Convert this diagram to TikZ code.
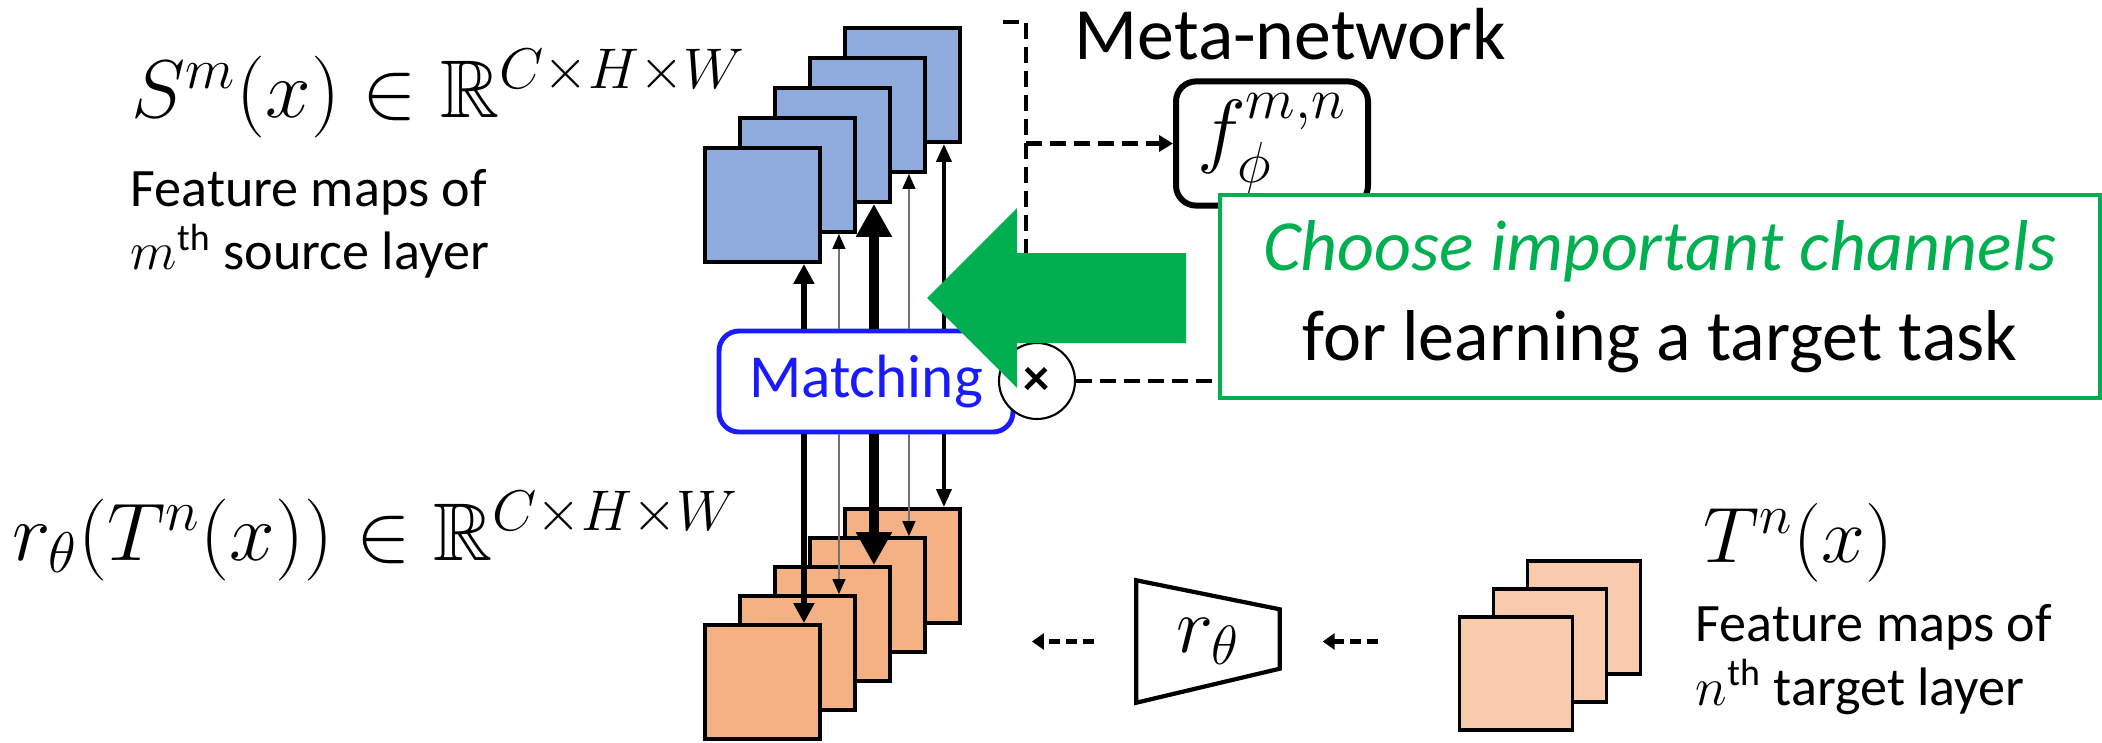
\RequirePackage{fix-cm}
\documentclass[tikz,border=0pt]{standalone}
\usepackage{amssymb}
\usepackage{fontspec}
\setmainfont{Carlito}
\usetikzlibrary{arrows.meta,positioning,calc}

\definecolor{srcblue}{HTML}{8FAADC}
\definecolor{recorange}{HTML}{F4B183}
\definecolor{tgtorange}{HTML}{F8CBAD}
\definecolor{notegreen}{HTML}{00B050}
\definecolor{matchblue}{HTML}{1A1AFF}

\tikzset{
  fmap/.style={draw, line width=1.1pt, minimum width=1.15cm, minimum height=1.14cm, inner sep=0pt},
  mathlbl/.style={font=\fontsize{23.3}{28}\selectfont, inner sep=0pt},
  desc/.style={font=\fontsize{15.4}{18}\selectfont, inner sep=0pt, align=left},
  chbold/.style={line width=1.6pt, -{Triangle[length=0.2cm,width=0.2cm]}},
  chthin/.style={line width=0.4pt, black!55, -{Triangle[length=0.15cm,width=0.13cm,color=black]}},
  chmax/.style={line width=2.8pt, -{Triangle[length=0.33cm,width=0.34cm]}},
  chmid/.style={line width=1.1pt, -{Triangle[length=0.18cm,width=0.15cm]}},
  metaline/.style={line width=1.3pt, dash pattern=on 0.16cm off 0.08cm},
  recline/.style={line width=1.4pt, dash pattern=on 0.11cm off 0.06cm, -{Triangle[length=0.12cm,width=0.16cm]}}
}

\begin{document}
\begin{tikzpicture}
  \useasboundingbox (0,0) rectangle (21.02,-7.42);

  % feature map stacks
  \foreach \k in {4,3,2,1,0}
    \node[fmap, fill=srcblue] (s\k) at ({7.625+0.35*\k},{-2.05+0.30*\k}) {};
  \foreach \k in {4,3,2,1,0}
    \node[fmap, fill=recorange] (o\k) at ({7.625+0.35*\k},{-6.82+0.29*\k}) {};
  \foreach \k in {2,1,0}
    \node[fmap, fill=tgtorange, minimum width=1.13cm, minimum height=1.13cm] (t\k) at ({15.16+0.34*\k},{-6.735+0.28*\k}) {};

  \node[draw=matchblue, line width=1.4pt, rounded corners=0.2cm, fill=white, text=matchblue,
        minimum width=2.94cm, minimum height=1.01cm, font=\fontsize{17.4}{20}\selectfont] (match) at (8.66,-3.815) {Matching};

  % channel weights
  \foreach \k/\w in {0/chbold,1/chthin,2/chmax,3/chthin,4/chmid} {
    \draw[\w] ([xshift=-0.18cm]s\k.south east |- match.north) -- ([xshift=-0.18cm]s\k.south east);
    \draw[\w] ([xshift=-0.18cm]o\k.north east |- match.south) -- ([xshift=-0.18cm]o\k.north east);
  }

  % meta-network
  \node[anchor=base west, inner sep=0pt, font=\fontsize{21}{25}\selectfont] (metatitle) at (10.74,-0.60) {Meta-network};
  \node[draw, line width=1.7pt, rounded corners=0.2cm, minimum width=1.92cm, minimum height=1.07cm,
        font=\fontsize{23.5}{28}\selectfont] (fmeta) at (12.72,-1.435) {$f_\phi^{m,n}$};
  \coordinate (tap) at (10.03,-0.22);
  \coordinate (bend) at (10.26,-0.22);
  \draw[metaline] (tap) -- (bend) -- (bend |- match.north);
  \draw[metaline, -{Triangle[length=0.14cm,width=0.16cm]}] (bend |- fmeta.west) -- (fmeta.west);

  \node[circle, draw, line width=0.6pt, fill=white, minimum size=0.76cm, inner sep=0pt,
        font=\bfseries\fontsize{15}{15}\selectfont] (mult) at (10.37,-3.81) {×};

  % big arrow
  \fill[notegreen] (9.27,-2.98) -- (10.17,-2.08) -- (10.17,-2.53) -- (11.86,-2.53)
    -- (11.86,-3.43) -- (10.17,-3.43) -- (10.17,-3.88) -- cycle;

  \node[draw=notegreen, line width=1.2pt, fill=white, minimum width=8.8cm, minimum height=2.03cm,
        align=center, font=\fontsize{20.5}{25.6}\selectfont] (note) at (16.6,-2.965)
        {\textcolor{notegreen}{\itshape Choose important channels}\\for learning a target task};
  \draw[metaline] (mult.east) -- (mult.east -| note.west);

  % reducer
  \node[minimum width=1.42cm, minimum height=1.21cm, inner sep=0pt,
        font=\fontsize{22.5}{27}\selectfont] (rnet) at (12.08,-6.415) {$r_\theta$};
  \draw[line width=1.2pt] (rnet.north west) -- ([yshift=-0.29cm]rnet.north east)
    -- ([yshift=0.34cm]rnet.south east) -- (rnet.south west) -- cycle;
  \draw[recline, shorten <=0.8cm, shorten >=0.43cm] (rnet.east -| t0.west) -- (rnet.east);
  \draw[recline, shorten <=0.42cm, shorten >=0.7cm] (rnet.west) -- (rnet.west -| o4.east);

  % labels
  \node[mathlbl, anchor=base west] (slabel) at (1.31,-1.18) {$S^m(x)\in\mathbb{R}^{C\times H\times W}$};
  \node[desc, anchor=base west] (sdesc) at (1.30,-2.70) {Feature maps of\\$m$\textsuperscript{th} source layer};
  \node[mathlbl, anchor=base west] (rlabel) at (0.12,-5.60) {$r_\theta(T^n(x))\in\mathbb{R}^{C\times H\times W}$};
  \node[mathlbl, anchor=base west, font=\fontsize{22.4}{27}\selectfont] (tlabel) at (17.03,-5.62) {$T^n(x)$};
  \node[desc, anchor=base west] (tdesc) at (16.95,-7.05) {Feature maps of\\$n$\textsuperscript{th} target layer};
\end{tikzpicture}
\end{document}
